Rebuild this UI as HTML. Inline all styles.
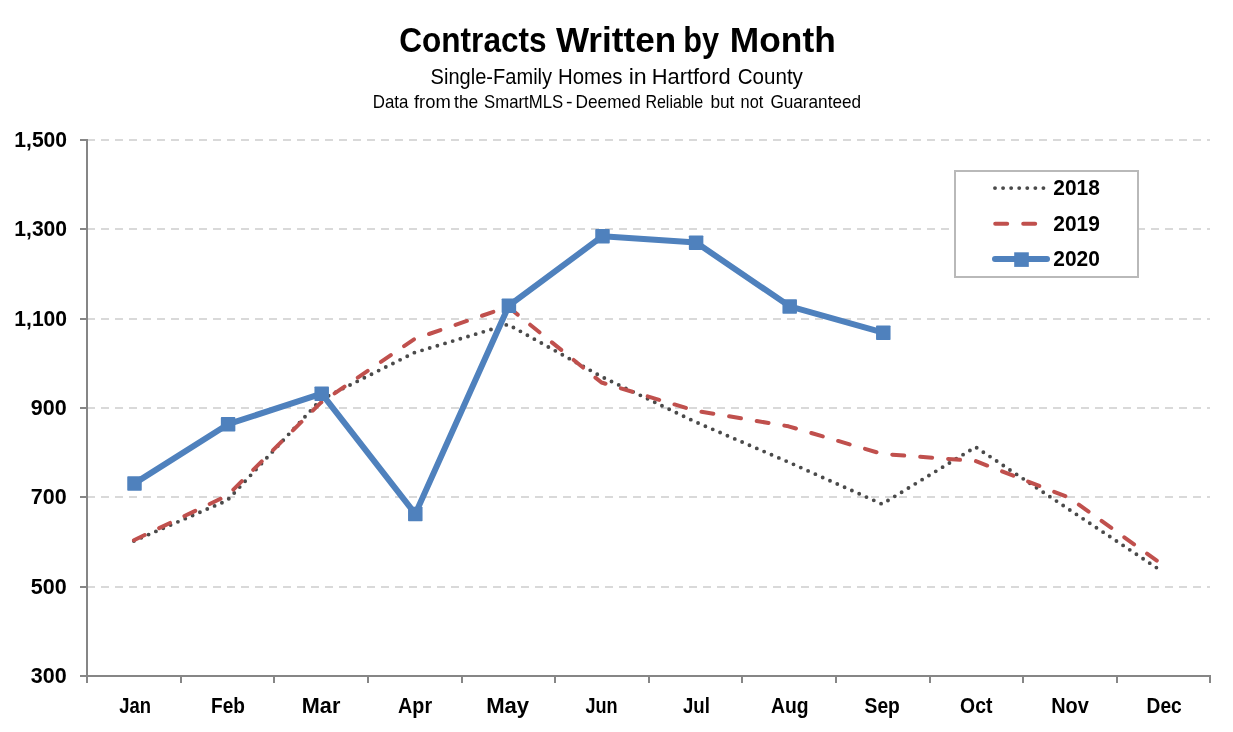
<!DOCTYPE html>
<html lang="en">
<head>
<meta charset="utf-8">
<title>Contracts Written by Month</title>
<style>
html,body{margin:0;padding:0;background:#fff;}
body{width:1233px;height:732px;overflow:hidden;}
svg{display:block;}
text{font-family:"Liberation Sans",sans-serif;fill:#000;}
.b{font-weight:bold;}
</style>
</head>
<body>
<svg width="1233" height="732" viewBox="0 0 1233 732">
<rect x="0" y="0" width="1233" height="732" fill="#ffffff"/>
<g stroke="#d9d9d9" stroke-width="2" stroke-dasharray="8 6" fill="none">
<line x1="87" y1="140.0" x2="1210" y2="140.0"/>
<line x1="87" y1="229.0" x2="1210" y2="229.0"/>
<line x1="87" y1="319.0" x2="1210" y2="319.0"/>
<line x1="87" y1="408.0" x2="1210" y2="408.0"/>
<line x1="87" y1="497.0" x2="1210" y2="497.0"/>
<line x1="87" y1="587.0" x2="1210" y2="587.0"/>
</g>
<g stroke="#868686" stroke-width="2" fill="none">
<line x1="87" y1="139" x2="87" y2="677"/>
<line x1="80" y1="676" x2="1211" y2="676"/>
<line x1="80" y1="140.0" x2="87" y2="140.0"/>
<line x1="80" y1="229.0" x2="87" y2="229.0"/>
<line x1="80" y1="319.0" x2="87" y2="319.0"/>
<line x1="80" y1="408.0" x2="87" y2="408.0"/>
<line x1="80" y1="497.0" x2="87" y2="497.0"/>
<line x1="80" y1="587.0" x2="87" y2="587.0"/>
<line x1="87.0" y1="676" x2="87.0" y2="683"/>
<line x1="181.0" y1="676" x2="181.0" y2="683"/>
<line x1="274.0" y1="676" x2="274.0" y2="683"/>
<line x1="368.0" y1="676" x2="368.0" y2="683"/>
<line x1="462.0" y1="676" x2="462.0" y2="683"/>
<line x1="555.0" y1="676" x2="555.0" y2="683"/>
<line x1="649.0" y1="676" x2="649.0" y2="683"/>
<line x1="742.0" y1="676" x2="742.0" y2="683"/>
<line x1="836.0" y1="676" x2="836.0" y2="683"/>
<line x1="930.0" y1="676" x2="930.0" y2="683"/>
<line x1="1023.0" y1="676" x2="1023.0" y2="683"/>
<line x1="1117.0" y1="676" x2="1117.0" y2="683"/>
<line x1="1210.0" y1="676" x2="1210.0" y2="683"/>
</g>
<polyline points="133.9,541.0 227.4,500.3 320.9,399.6 414.5,352.6 508.0,324.4 601.5,376.6 695.0,421.7 788.5,462.1 882.1,504.1 975.6,447.0 1069.1,509.5 1162.6,571.7" fill="none" stroke="#4a4a4a" stroke-width="3.9" stroke-linecap="round" stroke-linejoin="round" stroke-dasharray="0 8"/>
<polyline points="133.9,540.2 227.4,495.5 320.9,402.6 414.5,339.0 508.0,306.8 601.5,382.5 695.0,410.6 788.5,426.3 882.1,453.9 975.6,461.0 1069.1,497.6 1162.6,564.8" fill="none" stroke="#c0504d" stroke-width="4" stroke-linecap="round" stroke-linejoin="round" stroke-dasharray="12 16"/>
<polyline points="134.5,483.4 228.1,424.2 321.7,393.6 415.3,513.9 508.9,305.6 602.5,236.2 696.1,242.6 789.7,306.3 883.3,332.6" fill="none" stroke="#4f81bd" stroke-width="6" stroke-linecap="round" stroke-linejoin="round"/>
<g fill="#4f81bd">
<rect x="127.25" y="476.30" width="14.5" height="14.5" rx="0.8"/>
<rect x="220.85" y="417.10" width="14.5" height="14.5" rx="0.8"/>
<rect x="314.45" y="386.50" width="14.5" height="14.5" rx="0.8"/>
<rect x="408.05" y="506.80" width="14.5" height="14.5" rx="0.8"/>
<rect x="501.65" y="298.50" width="14.5" height="14.5" rx="0.8"/>
<rect x="595.25" y="229.10" width="14.5" height="14.5" rx="0.8"/>
<rect x="688.85" y="235.50" width="14.5" height="14.5" rx="0.8"/>
<rect x="782.45" y="299.20" width="14.5" height="14.5" rx="0.8"/>
<rect x="876.05" y="325.50" width="14.5" height="14.5" rx="0.8"/>
</g>
<rect x="955" y="171" width="183" height="106" fill="#ffffff" stroke="#b9b9b9" stroke-width="2"/>
<line x1="995" y1="188.1" x2="1044" y2="188.1" stroke="#4a4a4a" stroke-width="3.9" stroke-linecap="round" stroke-dasharray="0 8.07"/>
<line x1="995.2" y1="223.8" x2="1040" y2="223.8" stroke="#c0504d" stroke-width="4" stroke-linecap="round" stroke-dasharray="12 16"/>
<line x1="995" y1="259" x2="1047" y2="259" stroke="#4f81bd" stroke-width="6" stroke-linecap="round"/>
<rect x="1014.2" y="252.3" width="14.6" height="14.6" fill="#4f81bd"/>
<text id="t1" class="b" font-size="35.2" y="51.8"><tspan x="399.19" textLength="147.42" lengthAdjust="spacingAndGlyphs">Contracts</tspan> <tspan x="555.89" textLength="120.24" lengthAdjust="spacingAndGlyphs">Written</tspan> <tspan x="683.35" textLength="35.88" lengthAdjust="spacingAndGlyphs">by</tspan> <tspan x="729.82" textLength="105.95" lengthAdjust="spacingAndGlyphs">Month</tspan></text>
<text id="t2" font-size="21.3" y="83.7"><tspan x="430.60" textLength="121.50" lengthAdjust="spacingAndGlyphs">Single-Family</tspan> <tspan x="557.96" textLength="64.55" lengthAdjust="spacingAndGlyphs">Homes</tspan> <tspan x="628.69" textLength="18.05" lengthAdjust="spacingAndGlyphs">in</tspan> <tspan x="651.74" textLength="79.00" lengthAdjust="spacingAndGlyphs">Hartford</tspan> <tspan x="737.70" textLength="65.21" lengthAdjust="spacingAndGlyphs">County</tspan></text>
<text id="t3" font-size="17.7" y="108.0"><tspan x="372.76" textLength="35.65" lengthAdjust="spacingAndGlyphs">Data</tspan> <tspan x="414.00" textLength="36.73" lengthAdjust="spacingAndGlyphs">from</tspan> <tspan x="454.08" textLength="24.22" lengthAdjust="spacingAndGlyphs">the</tspan> <tspan x="484.09" textLength="79.13" lengthAdjust="spacingAndGlyphs">SmartMLS</tspan> <tspan x="566.03" textLength="6.53" lengthAdjust="spacingAndGlyphs">-</tspan> <tspan x="575.56" textLength="65.28" lengthAdjust="spacingAndGlyphs">Deemed</tspan> <tspan x="645.39" textLength="57.92" lengthAdjust="spacingAndGlyphs">Reliable</tspan> <tspan x="710.38" textLength="24.04" lengthAdjust="spacingAndGlyphs">but</tspan> <tspan x="740.57" textLength="22.67" lengthAdjust="spacingAndGlyphs">not</tspan> <tspan x="770.38" textLength="90.74" lengthAdjust="spacingAndGlyphs">Guaranteed</tspan></text>
<text id="y0" class="b" font-size="21.8" y="146.9"><tspan x="14.27" textLength="52.85" lengthAdjust="spacingAndGlyphs">1,500</tspan></text>
<text id="y1" class="b" font-size="21.8" y="235.9"><tspan x="14.27" textLength="52.85" lengthAdjust="spacingAndGlyphs">1,300</tspan></text>
<text id="y2" class="b" font-size="21.8" y="325.9"><tspan x="14.27" textLength="52.85" lengthAdjust="spacingAndGlyphs">1,100</tspan></text>
<text id="y3" class="b" font-size="21.8" y="414.9"><tspan x="30.77" textLength="35.88" lengthAdjust="spacingAndGlyphs">900</tspan></text>
<text id="y4" class="b" font-size="21.8" y="503.9"><tspan x="30.78" textLength="35.85" lengthAdjust="spacingAndGlyphs">700</tspan></text>
<text id="y5" class="b" font-size="21.8" y="593.9"><tspan x="30.77" textLength="35.88" lengthAdjust="spacingAndGlyphs">500</tspan></text>
<text id="y6" class="b" font-size="21.8" y="682.9"><tspan x="30.77" textLength="35.88" lengthAdjust="spacingAndGlyphs">300</tspan></text>
<text id="m0" class="b" font-size="21.8" y="713.0"><tspan x="119.18" textLength="31.76" lengthAdjust="spacingAndGlyphs">Jan</tspan></text>
<text id="m1" class="b" font-size="21.8" y="713.0"><tspan x="211.06" textLength="33.88" lengthAdjust="spacingAndGlyphs">Feb</tspan></text>
<text id="m2" class="b" font-size="21.8" y="713.0"><tspan x="301.86" textLength="38.45" lengthAdjust="spacingAndGlyphs">Mar</tspan></text>
<text id="m3" class="b" font-size="21.8" y="713.0"><tspan x="398.10" textLength="34.00" lengthAdjust="spacingAndGlyphs">Apr</tspan></text>
<text id="m4" class="b" font-size="21.8" y="713.0"><tspan x="486.15" textLength="42.97" lengthAdjust="spacingAndGlyphs">May</tspan></text>
<text id="m5" class="b" font-size="21.8" y="713.0"><tspan x="585.49" textLength="32.14" lengthAdjust="spacingAndGlyphs">Jun</tspan></text>
<text id="m6" class="b" font-size="21.8" y="713.0"><tspan x="682.99" textLength="26.87" lengthAdjust="spacingAndGlyphs">Jul</tspan></text>
<text id="m7" class="b" font-size="21.8" y="713.0"><tspan x="770.97" textLength="37.59" lengthAdjust="spacingAndGlyphs">Aug</tspan></text>
<text id="m8" class="b" font-size="21.8" y="713.0"><tspan x="864.56" textLength="35.28" lengthAdjust="spacingAndGlyphs">Sep</tspan></text>
<text id="m9" class="b" font-size="21.8" y="713.0"><tspan x="960.10" textLength="32.30" lengthAdjust="spacingAndGlyphs">Oct</tspan></text>
<text id="m10" class="b" font-size="21.8" y="713.0"><tspan x="1051.19" textLength="37.62" lengthAdjust="spacingAndGlyphs">Nov</tspan></text>
<text id="m11" class="b" font-size="21.8" y="713.0"><tspan x="1146.57" textLength="35.16" lengthAdjust="spacingAndGlyphs">Dec</tspan></text>
<text id="l0" class="b" font-size="21.8" y="195.0"><tspan x="1053.29" textLength="46.61" lengthAdjust="spacingAndGlyphs">2018</tspan></text>
<text id="l1" class="b" font-size="21.8" y="231.0"><tspan x="1053.29" textLength="46.61" lengthAdjust="spacingAndGlyphs">2019</tspan></text>
<text id="l2" class="b" font-size="21.8" y="266.0"><tspan x="1053.30" textLength="46.61" lengthAdjust="spacingAndGlyphs">2020</tspan></text>
</svg>
</body>
</html>
